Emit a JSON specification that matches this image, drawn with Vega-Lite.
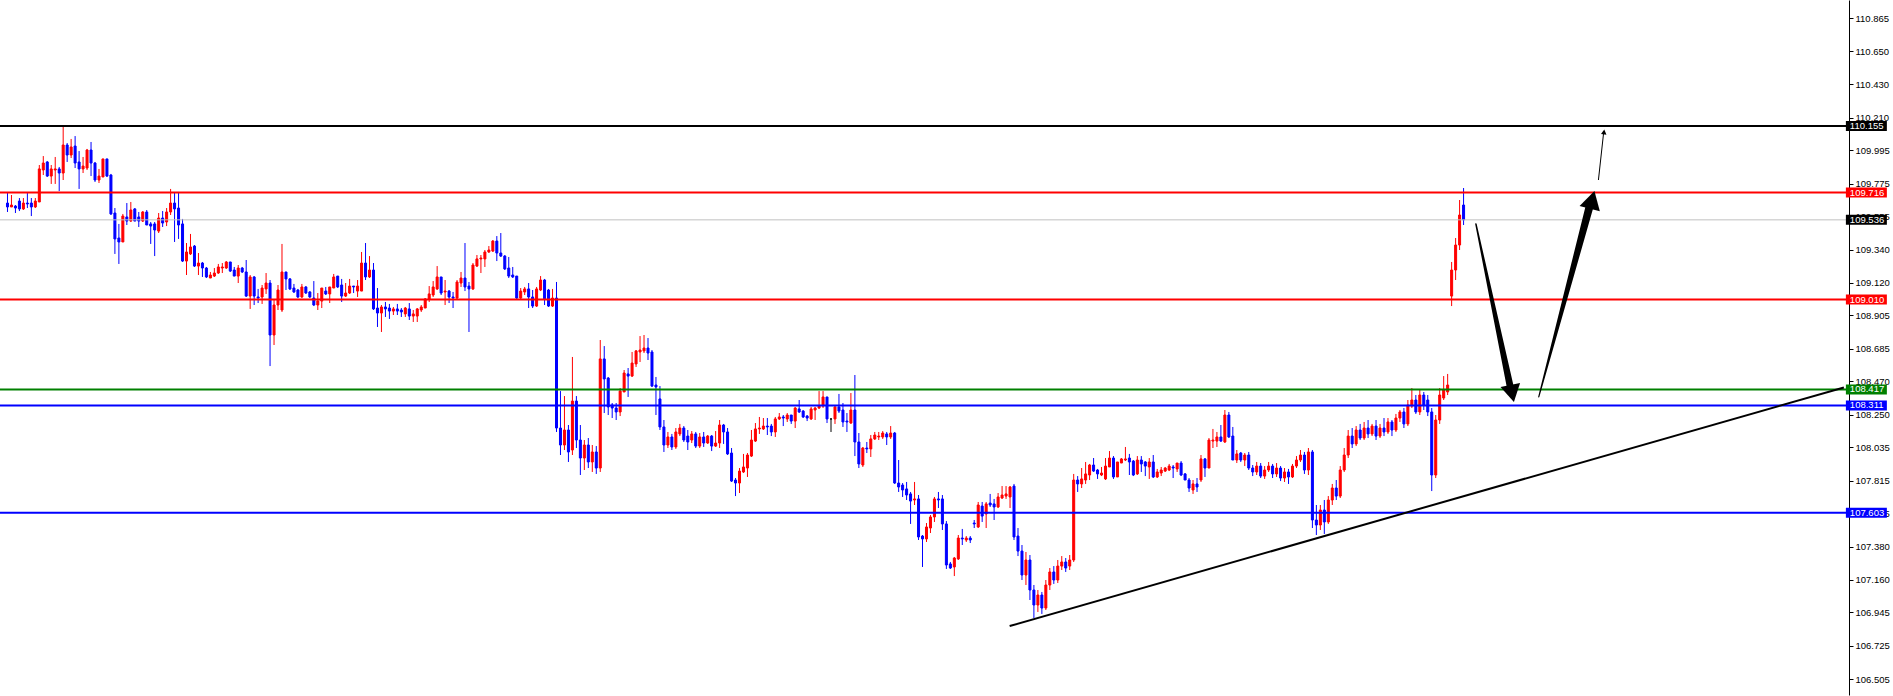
{
"$schema":"https://vega.github.io/schema/vega-lite/v6.json",
"width":1849,"height":695,
"autosize":{"type":"none"},
"padding":{"left":0,"top":0,"right":44,"bottom":1},
"background":"#FFFFFF",
"config":{"view":{"stroke":null}},
"datasets":{
"candles":[
{"i":0,"o":109.647,"h":109.713,"l":109.588,"c":109.621},
{"i":1,"o":109.621,"h":109.700,"l":109.621,"c":109.634},
{"i":2,"o":109.627,"h":109.634,"l":109.581,"c":109.614},
{"i":3,"o":109.660,"h":109.680,"l":109.594,"c":109.608},
{"i":4,"o":109.608,"h":109.680,"l":109.601,"c":109.647},
{"i":5,"o":109.647,"h":109.713,"l":109.614,"c":109.641},
{"i":6,"o":109.647,"h":109.680,"l":109.561,"c":109.621},
{"i":7,"o":109.621,"h":109.680,"l":109.614,"c":109.660},
{"i":8,"o":109.654,"h":109.898,"l":109.654,"c":109.872},
{"i":9,"o":109.865,"h":109.957,"l":109.832,"c":109.911},
{"i":10,"o":109.918,"h":109.924,"l":109.819,"c":109.825},
{"i":11,"o":109.825,"h":109.898,"l":109.773,"c":109.872},
{"i":12,"o":109.865,"h":109.951,"l":109.773,"c":109.872},
{"i":13,"o":109.872,"h":109.885,"l":109.726,"c":109.845},
{"i":14,"o":109.845,"h":110.155,"l":109.799,"c":110.030},
{"i":15,"o":110.030,"h":110.043,"l":109.918,"c":109.964},
{"i":16,"o":109.964,"h":110.070,"l":109.944,"c":110.017},
{"i":17,"o":110.023,"h":110.089,"l":109.878,"c":109.911},
{"i":18,"o":109.918,"h":109.990,"l":109.740,"c":109.872},
{"i":19,"o":109.872,"h":109.951,"l":109.845,"c":109.891},
{"i":20,"o":109.878,"h":110.004,"l":109.865,"c":109.997},
{"i":21,"o":109.997,"h":110.050,"l":109.825,"c":109.911},
{"i":22,"o":109.911,"h":109.918,"l":109.786,"c":109.799},
{"i":23,"o":109.799,"h":109.872,"l":109.779,"c":109.825},
{"i":24,"o":109.819,"h":109.938,"l":109.819,"c":109.938},
{"i":25,"o":109.938,"h":109.938,"l":109.819,"c":109.825},
{"i":26,"o":109.832,"h":109.839,"l":109.568,"c":109.575},
{"i":27,"o":109.581,"h":109.614,"l":109.311,"c":109.410},
{"i":28,"o":109.416,"h":109.509,"l":109.245,"c":109.390},
{"i":29,"o":109.390,"h":109.575,"l":109.390,"c":109.561},
{"i":30,"o":109.555,"h":109.647,"l":109.502,"c":109.528},
{"i":31,"o":109.528,"h":109.654,"l":109.522,"c":109.601},
{"i":32,"o":109.608,"h":109.614,"l":109.528,"c":109.528},
{"i":33,"o":109.555,"h":109.588,"l":109.489,"c":109.528},
{"i":34,"o":109.528,"h":109.594,"l":109.522,"c":109.588},
{"i":35,"o":109.588,"h":109.601,"l":109.502,"c":109.502},
{"i":36,"o":109.509,"h":109.522,"l":109.377,"c":109.495},
{"i":37,"o":109.509,"h":109.522,"l":109.297,"c":109.469},
{"i":38,"o":109.462,"h":109.581,"l":109.449,"c":109.548},
{"i":39,"o":109.548,"h":109.594,"l":109.489,"c":109.515},
{"i":40,"o":109.522,"h":109.614,"l":109.495,"c":109.588},
{"i":41,"o":109.588,"h":109.740,"l":109.568,"c":109.647},
{"i":42,"o":109.647,"h":109.720,"l":109.390,"c":109.608},
{"i":43,"o":109.614,"h":109.720,"l":109.410,"c":109.502},
{"i":44,"o":109.509,"h":109.542,"l":109.258,"c":109.264},
{"i":45,"o":109.264,"h":109.383,"l":109.172,"c":109.324},
{"i":46,"o":109.311,"h":109.443,"l":109.304,"c":109.357},
{"i":47,"o":109.363,"h":109.370,"l":109.225,"c":109.231},
{"i":48,"o":109.231,"h":109.317,"l":109.172,"c":109.251},
{"i":49,"o":109.251,"h":109.258,"l":109.159,"c":109.218},
{"i":50,"o":109.218,"h":109.225,"l":109.152,"c":109.159},
{"i":51,"o":109.152,"h":109.192,"l":109.152,"c":109.172},
{"i":52,"o":109.165,"h":109.218,"l":109.159,"c":109.185},
{"i":53,"o":109.185,"h":109.245,"l":109.179,"c":109.225},
{"i":54,"o":109.218,"h":109.251,"l":109.185,"c":109.225},
{"i":55,"o":109.218,"h":109.264,"l":109.212,"c":109.258},
{"i":56,"o":109.258,"h":109.258,"l":109.192,"c":109.198},
{"i":57,"o":109.205,"h":109.225,"l":109.165,"c":109.165},
{"i":58,"o":109.165,"h":109.238,"l":109.119,"c":109.218},
{"i":59,"o":109.218,"h":109.225,"l":109.185,"c":109.192},
{"i":60,"o":109.192,"h":109.271,"l":109.027,"c":109.033},
{"i":61,"o":109.033,"h":109.172,"l":108.948,"c":109.159},
{"i":62,"o":109.159,"h":109.165,"l":108.974,"c":109.033},
{"i":63,"o":109.027,"h":109.080,"l":108.987,"c":109.020},
{"i":64,"o":109.027,"h":109.106,"l":108.981,"c":109.086},
{"i":65,"o":109.080,"h":109.185,"l":109.047,"c":109.119},
{"i":66,"o":109.119,"h":109.139,"l":108.571,"c":108.776},
{"i":67,"o":108.776,"h":109.007,"l":108.710,"c":108.974},
{"i":68,"o":108.974,"h":109.106,"l":108.941,"c":109.073},
{"i":69,"o":108.941,"h":109.377,"l":108.928,"c":109.192},
{"i":70,"o":109.192,"h":109.192,"l":109.073,"c":109.146},
{"i":71,"o":109.146,"h":109.152,"l":109.073,"c":109.080},
{"i":72,"o":109.086,"h":109.113,"l":109.053,"c":109.060},
{"i":73,"o":109.073,"h":109.080,"l":109.020,"c":109.027},
{"i":74,"o":109.027,"h":109.113,"l":109.020,"c":109.093},
{"i":75,"o":109.093,"h":109.099,"l":109.047,"c":109.053},
{"i":76,"o":109.060,"h":109.066,"l":109.020,"c":109.027},
{"i":77,"o":109.020,"h":109.132,"l":108.967,"c":108.974},
{"i":78,"o":108.974,"h":109.053,"l":108.941,"c":109.000},
{"i":79,"o":109.000,"h":109.086,"l":108.954,"c":109.086},
{"i":80,"o":109.066,"h":109.093,"l":109.040,"c":109.047},
{"i":81,"o":109.047,"h":109.093,"l":108.987,"c":109.093},
{"i":82,"o":109.086,"h":109.179,"l":109.086,"c":109.159},
{"i":83,"o":109.165,"h":109.165,"l":109.086,"c":109.093},
{"i":84,"o":109.106,"h":109.146,"l":108.994,"c":109.033},
{"i":85,"o":109.033,"h":109.119,"l":109.027,"c":109.053},
{"i":86,"o":109.053,"h":109.146,"l":109.047,"c":109.099},
{"i":87,"o":109.099,"h":109.099,"l":109.053,"c":109.093},
{"i":88,"o":109.066,"h":109.139,"l":109.027,"c":109.099},
{"i":89,"o":109.066,"h":109.324,"l":109.066,"c":109.251},
{"i":90,"o":109.251,"h":109.383,"l":109.139,"c":109.159},
{"i":91,"o":109.159,"h":109.297,"l":109.152,"c":109.205},
{"i":92,"o":109.205,"h":109.251,"l":108.941,"c":108.948},
{"i":93,"o":108.954,"h":109.086,"l":108.829,"c":108.921},
{"i":94,"o":108.921,"h":108.974,"l":108.796,"c":108.961},
{"i":95,"o":108.961,"h":108.994,"l":108.895,"c":108.948},
{"i":96,"o":108.954,"h":108.981,"l":108.882,"c":108.934},
{"i":97,"o":108.934,"h":108.961,"l":108.908,"c":108.948},
{"i":98,"o":108.948,"h":108.981,"l":108.908,"c":108.934},
{"i":99,"o":108.941,"h":108.954,"l":108.895,"c":108.928},
{"i":100,"o":108.915,"h":108.961,"l":108.895,"c":108.954},
{"i":101,"o":108.948,"h":108.987,"l":108.875,"c":108.901},
{"i":102,"o":108.901,"h":108.941,"l":108.862,"c":108.915},
{"i":103,"o":108.901,"h":108.954,"l":108.862,"c":108.948},
{"i":104,"o":108.941,"h":108.974,"l":108.928,"c":108.961},
{"i":105,"o":108.954,"h":109.020,"l":108.954,"c":109.014},
{"i":106,"o":109.014,"h":109.099,"l":108.994,"c":109.047},
{"i":107,"o":109.040,"h":109.132,"l":109.027,"c":109.093},
{"i":108,"o":109.080,"h":109.231,"l":109.073,"c":109.159},
{"i":109,"o":109.159,"h":109.159,"l":109.040,"c":109.053},
{"i":110,"o":109.060,"h":109.139,"l":108.974,"c":109.066},
{"i":111,"o":109.066,"h":109.073,"l":108.987,"c":109.027},
{"i":112,"o":109.027,"h":109.060,"l":108.954,"c":109.020},
{"i":113,"o":109.020,"h":109.139,"l":109.007,"c":109.126},
{"i":114,"o":109.119,"h":109.192,"l":109.093,"c":109.152},
{"i":115,"o":109.152,"h":109.383,"l":109.066,"c":109.093},
{"i":116,"o":109.099,"h":109.126,"l":108.796,"c":109.080},
{"i":117,"o":109.080,"h":109.251,"l":109.073,"c":109.238},
{"i":118,"o":109.231,"h":109.304,"l":109.225,"c":109.278},
{"i":119,"o":109.278,"h":109.304,"l":109.185,"c":109.284},
{"i":120,"o":109.278,"h":109.337,"l":109.225,"c":109.324},
{"i":121,"o":109.324,"h":109.363,"l":109.317,"c":109.337},
{"i":122,"o":109.330,"h":109.403,"l":109.324,"c":109.396},
{"i":123,"o":109.396,"h":109.429,"l":109.264,"c":109.317},
{"i":124,"o":109.317,"h":109.449,"l":109.291,"c":109.297},
{"i":125,"o":109.297,"h":109.304,"l":109.205,"c":109.212},
{"i":126,"o":109.218,"h":109.291,"l":109.152,"c":109.165},
{"i":127,"o":109.172,"h":109.225,"l":109.152,"c":109.159},
{"i":128,"o":109.165,"h":109.165,"l":109.014,"c":109.020},
{"i":129,"o":109.020,"h":109.086,"l":109.014,"c":109.066},
{"i":130,"o":109.060,"h":109.093,"l":109.040,"c":109.080},
{"i":131,"o":109.080,"h":109.119,"l":108.954,"c":109.027},
{"i":132,"o":109.027,"h":109.073,"l":108.954,"c":108.967},
{"i":133,"o":108.967,"h":109.093,"l":108.961,"c":109.080},
{"i":134,"o":109.073,"h":109.165,"l":109.066,"c":109.139},
{"i":135,"o":109.139,"h":109.146,"l":108.974,"c":109.014},
{"i":136,"o":109.073,"h":109.080,"l":108.961,"c":108.967},
{"i":137,"o":108.967,"h":109.080,"l":108.961,"c":109.020},
{"i":138,"o":109.020,"h":109.126,"l":108.136,"c":108.162},
{"i":139,"o":108.162,"h":108.406,"l":107.984,"c":108.050},
{"i":140,"o":108.050,"h":108.373,"l":108.017,"c":108.149},
{"i":141,"o":108.149,"h":108.182,"l":107.938,"c":108.004},
{"i":142,"o":108.017,"h":108.631,"l":107.984,"c":108.340},
{"i":143,"o":108.340,"h":108.373,"l":108.030,"c":108.083},
{"i":144,"o":108.083,"h":108.182,"l":107.852,"c":107.964},
{"i":145,"o":107.964,"h":108.083,"l":107.885,"c":108.050},
{"i":146,"o":108.050,"h":108.096,"l":107.898,"c":107.938},
{"i":147,"o":107.938,"h":108.050,"l":107.872,"c":108.004},
{"i":148,"o":108.004,"h":108.043,"l":107.859,"c":107.898},
{"i":149,"o":107.898,"h":108.743,"l":107.872,"c":108.618},
{"i":150,"o":108.618,"h":108.703,"l":108.261,"c":108.486},
{"i":151,"o":108.492,"h":108.499,"l":108.248,"c":108.301},
{"i":152,"o":108.314,"h":108.327,"l":108.228,"c":108.294},
{"i":153,"o":108.294,"h":108.327,"l":108.215,"c":108.268},
{"i":154,"o":108.268,"h":108.426,"l":108.241,"c":108.406},
{"i":155,"o":108.400,"h":108.545,"l":108.400,"c":108.525},
{"i":156,"o":108.519,"h":108.558,"l":108.367,"c":108.505},
{"i":157,"o":108.505,"h":108.664,"l":108.499,"c":108.591},
{"i":158,"o":108.585,"h":108.677,"l":108.565,"c":108.671},
{"i":159,"o":108.664,"h":108.769,"l":108.598,"c":108.677},
{"i":160,"o":108.671,"h":108.776,"l":108.657,"c":108.690},
{"i":161,"o":108.690,"h":108.756,"l":108.611,"c":108.657},
{"i":162,"o":108.664,"h":108.677,"l":108.433,"c":108.439},
{"i":163,"o":108.446,"h":108.499,"l":108.248,"c":108.433},
{"i":164,"o":108.354,"h":108.439,"l":108.149,"c":108.169},
{"i":165,"o":108.169,"h":108.215,"l":108.004,"c":108.050},
{"i":166,"o":108.050,"h":108.136,"l":108.030,"c":108.103},
{"i":167,"o":108.103,"h":108.123,"l":108.017,"c":108.037},
{"i":168,"o":108.037,"h":108.162,"l":108.024,"c":108.136},
{"i":169,"o":108.123,"h":108.189,"l":108.109,"c":108.162},
{"i":170,"o":108.162,"h":108.175,"l":108.070,"c":108.083},
{"i":171,"o":108.109,"h":108.149,"l":108.017,"c":108.070},
{"i":172,"o":108.083,"h":108.142,"l":108.063,"c":108.123},
{"i":173,"o":108.123,"h":108.136,"l":108.030,"c":108.043},
{"i":174,"o":108.043,"h":108.129,"l":108.030,"c":108.103},
{"i":175,"o":108.103,"h":108.136,"l":108.037,"c":108.063},
{"i":176,"o":108.063,"h":108.116,"l":108.057,"c":108.109},
{"i":177,"o":108.109,"h":108.116,"l":108.010,"c":108.043},
{"i":178,"o":108.043,"h":108.142,"l":108.037,"c":108.063},
{"i":179,"o":108.063,"h":108.215,"l":108.030,"c":108.182},
{"i":180,"o":108.182,"h":108.189,"l":108.057,"c":108.136},
{"i":181,"o":108.136,"h":108.162,"l":107.984,"c":107.991},
{"i":182,"o":107.997,"h":108.030,"l":107.806,"c":107.812},
{"i":183,"o":107.819,"h":107.832,"l":107.713,"c":107.799},
{"i":184,"o":107.799,"h":107.898,"l":107.733,"c":107.878},
{"i":185,"o":107.872,"h":107.991,"l":107.865,"c":107.905},
{"i":186,"o":107.898,"h":107.997,"l":107.839,"c":107.984},
{"i":187,"o":107.977,"h":108.149,"l":107.971,"c":108.083},
{"i":188,"o":108.076,"h":108.195,"l":108.070,"c":108.156},
{"i":189,"o":108.156,"h":108.235,"l":108.123,"c":108.162},
{"i":190,"o":108.156,"h":108.228,"l":108.149,"c":108.175},
{"i":191,"o":108.175,"h":108.228,"l":108.116,"c":108.169},
{"i":192,"o":108.175,"h":108.189,"l":108.109,"c":108.136},
{"i":193,"o":108.136,"h":108.235,"l":108.103,"c":108.222},
{"i":194,"o":108.222,"h":108.261,"l":108.215,"c":108.235},
{"i":195,"o":108.235,"h":108.248,"l":108.175,"c":108.228},
{"i":196,"o":108.222,"h":108.261,"l":108.202,"c":108.248},
{"i":197,"o":108.248,"h":108.248,"l":108.189,"c":108.208},
{"i":198,"o":108.208,"h":108.301,"l":108.162,"c":108.294},
{"i":199,"o":108.288,"h":108.347,"l":108.261,"c":108.268},
{"i":200,"o":108.274,"h":108.281,"l":108.228,"c":108.235},
{"i":201,"o":108.241,"h":108.248,"l":108.208,"c":108.228},
{"i":202,"o":108.222,"h":108.301,"l":108.215,"c":108.288},
{"i":203,"o":108.281,"h":108.301,"l":108.215,"c":108.294},
{"i":204,"o":108.294,"h":108.406,"l":108.288,"c":108.307},
{"i":205,"o":108.307,"h":108.406,"l":108.294,"c":108.367},
{"i":206,"o":108.367,"h":108.367,"l":108.195,"c":108.222},
{"i":207,"o":108.222,"h":108.222,"l":108.136,"c":108.222},
{"i":208,"o":108.222,"h":108.307,"l":108.189,"c":108.301},
{"i":209,"o":108.301,"h":108.387,"l":108.261,"c":108.274},
{"i":210,"o":108.281,"h":108.327,"l":108.169,"c":108.202},
{"i":211,"o":108.208,"h":108.261,"l":108.136,"c":108.202},
{"i":212,"o":108.195,"h":108.393,"l":108.189,"c":108.281},
{"i":213,"o":108.281,"h":108.512,"l":107.977,"c":108.070},
{"i":214,"o":108.070,"h":108.129,"l":107.898,"c":107.925},
{"i":215,"o":107.918,"h":108.037,"l":107.905,"c":108.030},
{"i":216,"o":108.030,"h":108.070,"l":107.997,"c":108.024},
{"i":217,"o":108.024,"h":108.116,"l":107.971,"c":108.090},
{"i":218,"o":108.090,"h":108.136,"l":108.083,"c":108.116},
{"i":219,"o":108.103,"h":108.136,"l":108.083,"c":108.109},
{"i":220,"o":108.103,"h":108.142,"l":108.090,"c":108.129},
{"i":221,"o":108.123,"h":108.136,"l":108.050,"c":108.103},
{"i":222,"o":108.103,"h":108.175,"l":108.090,"c":108.129},
{"i":223,"o":108.129,"h":108.136,"l":107.793,"c":107.799},
{"i":224,"o":107.799,"h":107.951,"l":107.740,"c":107.773},
{"i":225,"o":107.786,"h":107.799,"l":107.707,"c":107.753},
{"i":226,"o":107.760,"h":107.806,"l":107.687,"c":107.720},
{"i":227,"o":107.727,"h":107.740,"l":107.529,"c":107.680},
{"i":228,"o":107.687,"h":107.806,"l":107.654,"c":107.694},
{"i":229,"o":107.694,"h":107.720,"l":107.423,"c":107.443},
{"i":230,"o":107.449,"h":107.456,"l":107.245,"c":107.430},
{"i":231,"o":107.430,"h":107.535,"l":107.410,"c":107.509},
{"i":232,"o":107.502,"h":107.588,"l":107.469,"c":107.575},
{"i":233,"o":107.575,"h":107.707,"l":107.542,"c":107.694},
{"i":234,"o":107.694,"h":107.740,"l":107.634,"c":107.687},
{"i":235,"o":107.694,"h":107.720,"l":107.489,"c":107.529},
{"i":236,"o":107.529,"h":107.548,"l":107.232,"c":107.258},
{"i":237,"o":107.265,"h":107.278,"l":107.232,"c":107.238},
{"i":238,"o":107.245,"h":107.311,"l":107.185,"c":107.304},
{"i":239,"o":107.298,"h":107.456,"l":107.291,"c":107.436},
{"i":240,"o":107.436,"h":107.496,"l":107.390,"c":107.430},
{"i":241,"o":107.423,"h":107.449,"l":107.410,"c":107.436},
{"i":242,"o":107.436,"h":107.449,"l":107.403,"c":107.423},
{"i":243,"o":107.535,"h":107.555,"l":107.502,"c":107.529},
{"i":244,"o":107.509,"h":107.674,"l":107.502,"c":107.654},
{"i":245,"o":107.647,"h":107.674,"l":107.542,"c":107.581},
{"i":246,"o":107.595,"h":107.674,"l":107.502,"c":107.661},
{"i":247,"o":107.667,"h":107.727,"l":107.641,"c":107.654},
{"i":248,"o":107.661,"h":107.694,"l":107.555,"c":107.641},
{"i":249,"o":107.641,"h":107.733,"l":107.634,"c":107.707},
{"i":250,"o":107.700,"h":107.779,"l":107.694,"c":107.720},
{"i":251,"o":107.713,"h":107.779,"l":107.694,"c":107.727},
{"i":252,"o":107.707,"h":107.779,"l":107.634,"c":107.773},
{"i":253,"o":107.779,"h":107.793,"l":107.423,"c":107.443},
{"i":254,"o":107.449,"h":107.502,"l":107.317,"c":107.350},
{"i":255,"o":107.350,"h":107.390,"l":107.159,"c":107.192},
{"i":256,"o":107.192,"h":107.344,"l":107.126,"c":107.291},
{"i":257,"o":107.291,"h":107.324,"l":107.027,"c":107.093},
{"i":258,"o":107.093,"h":107.126,"l":106.908,"c":106.994},
{"i":259,"o":106.994,"h":107.093,"l":106.948,"c":107.060},
{"i":260,"o":107.060,"h":107.080,"l":106.935,"c":106.974},
{"i":261,"o":106.974,"h":107.159,"l":106.961,"c":107.126},
{"i":262,"o":107.126,"h":107.238,"l":107.093,"c":107.212},
{"i":263,"o":107.212,"h":107.251,"l":107.133,"c":107.159},
{"i":264,"o":107.159,"h":107.291,"l":107.139,"c":107.251},
{"i":265,"o":107.251,"h":107.317,"l":107.225,"c":107.278},
{"i":266,"o":107.278,"h":107.304,"l":107.212,"c":107.238},
{"i":267,"o":107.251,"h":107.324,"l":107.225,"c":107.291},
{"i":268,"o":107.291,"h":107.859,"l":107.278,"c":107.819},
{"i":269,"o":107.819,"h":107.845,"l":107.740,"c":107.793},
{"i":270,"o":107.793,"h":107.898,"l":107.766,"c":107.826},
{"i":271,"o":107.819,"h":107.938,"l":107.793,"c":107.859},
{"i":272,"o":107.852,"h":107.925,"l":107.819,"c":107.918},
{"i":273,"o":107.918,"h":107.964,"l":107.872,"c":107.878},
{"i":274,"o":107.885,"h":107.892,"l":107.826,"c":107.859},
{"i":275,"o":107.852,"h":107.905,"l":107.845,"c":107.865},
{"i":276,"o":107.826,"h":107.964,"l":107.819,"c":107.911},
{"i":277,"o":107.905,"h":108.010,"l":107.905,"c":107.964},
{"i":278,"o":107.964,"h":107.977,"l":107.826,"c":107.839},
{"i":279,"o":107.839,"h":107.938,"l":107.839,"c":107.938},
{"i":280,"o":107.931,"h":107.964,"l":107.931,"c":107.958},
{"i":281,"o":107.951,"h":108.037,"l":107.944,"c":107.958},
{"i":282,"o":107.964,"h":107.991,"l":107.852,"c":107.938},
{"i":283,"o":107.944,"h":107.951,"l":107.845,"c":107.852},
{"i":284,"o":107.859,"h":107.977,"l":107.852,"c":107.951},
{"i":285,"o":107.951,"h":107.977,"l":107.872,"c":107.925},
{"i":286,"o":107.938,"h":107.944,"l":107.845,"c":107.911},
{"i":287,"o":107.905,"h":107.964,"l":107.826,"c":107.938},
{"i":288,"o":107.938,"h":107.984,"l":107.832,"c":107.839},
{"i":289,"o":107.839,"h":107.892,"l":107.832,"c":107.872},
{"i":290,"o":107.865,"h":107.905,"l":107.845,"c":107.885},
{"i":291,"o":107.878,"h":107.905,"l":107.872,"c":107.898},
{"i":292,"o":107.885,"h":107.925,"l":107.878,"c":107.911},
{"i":293,"o":107.905,"h":107.918,"l":107.832,"c":107.898},
{"i":294,"o":107.892,"h":107.931,"l":107.872,"c":107.931},
{"i":295,"o":107.931,"h":107.944,"l":107.845,"c":107.852},
{"i":296,"o":107.859,"h":107.865,"l":107.819,"c":107.819},
{"i":297,"o":107.819,"h":107.832,"l":107.740,"c":107.766},
{"i":298,"o":107.753,"h":107.819,"l":107.727,"c":107.793},
{"i":299,"o":107.793,"h":107.832,"l":107.740,"c":107.773},
{"i":300,"o":107.819,"h":107.984,"l":107.806,"c":107.958},
{"i":301,"o":107.958,"h":107.964,"l":107.839,"c":107.898},
{"i":302,"o":107.898,"h":108.096,"l":107.898,"c":108.083},
{"i":303,"o":108.076,"h":108.156,"l":108.030,"c":108.083},
{"i":304,"o":108.076,"h":108.136,"l":108.037,"c":108.103},
{"i":305,"o":108.103,"h":108.182,"l":108.070,"c":108.076},
{"i":306,"o":108.070,"h":108.281,"l":108.063,"c":108.248},
{"i":307,"o":108.248,"h":108.268,"l":108.096,"c":108.103},
{"i":308,"o":108.109,"h":108.169,"l":107.951,"c":107.951},
{"i":309,"o":107.951,"h":108.017,"l":107.931,"c":107.991},
{"i":310,"o":107.997,"h":108.004,"l":107.938,"c":107.951},
{"i":311,"o":107.951,"h":107.997,"l":107.911,"c":107.984},
{"i":312,"o":107.984,"h":108.004,"l":107.885,"c":107.898},
{"i":313,"o":107.898,"h":107.918,"l":107.845,"c":107.872},
{"i":314,"o":107.872,"h":107.938,"l":107.852,"c":107.911},
{"i":315,"o":107.911,"h":107.931,"l":107.832,"c":107.845},
{"i":316,"o":107.845,"h":107.911,"l":107.826,"c":107.885},
{"i":317,"o":107.885,"h":107.938,"l":107.872,"c":107.911},
{"i":318,"o":107.911,"h":107.925,"l":107.832,"c":107.859},
{"i":319,"o":107.859,"h":107.931,"l":107.839,"c":107.898},
{"i":320,"o":107.898,"h":107.911,"l":107.812,"c":107.832},
{"i":321,"o":107.832,"h":107.898,"l":107.806,"c":107.872},
{"i":322,"o":107.872,"h":107.892,"l":107.793,"c":107.839},
{"i":323,"o":107.839,"h":107.925,"l":107.832,"c":107.911},
{"i":324,"o":107.911,"h":107.977,"l":107.898,"c":107.951},
{"i":325,"o":107.951,"h":108.017,"l":107.938,"c":107.984},
{"i":326,"o":107.984,"h":108.004,"l":107.859,"c":107.885},
{"i":327,"o":107.885,"h":108.030,"l":107.852,"c":108.004},
{"i":328,"o":108.004,"h":108.017,"l":107.502,"c":107.555},
{"i":329,"o":107.555,"h":107.654,"l":107.456,"c":107.522},
{"i":330,"o":107.522,"h":107.654,"l":107.489,"c":107.621},
{"i":331,"o":107.621,"h":107.687,"l":107.463,"c":107.542},
{"i":332,"o":107.542,"h":107.713,"l":107.529,"c":107.687},
{"i":333,"o":107.687,"h":107.793,"l":107.654,"c":107.766},
{"i":334,"o":107.766,"h":107.819,"l":107.687,"c":107.713},
{"i":335,"o":107.713,"h":107.911,"l":107.700,"c":107.885},
{"i":336,"o":107.885,"h":108.030,"l":107.872,"c":107.984},
{"i":337,"o":107.984,"h":108.149,"l":107.964,"c":108.109},
{"i":338,"o":108.109,"h":108.162,"l":108.030,"c":108.057},
{"i":339,"o":108.057,"h":108.175,"l":108.043,"c":108.149},
{"i":340,"o":108.149,"h":108.189,"l":108.083,"c":108.096},
{"i":341,"o":108.096,"h":108.202,"l":108.083,"c":108.162},
{"i":342,"o":108.162,"h":108.215,"l":108.096,"c":108.123},
{"i":343,"o":108.123,"h":108.189,"l":108.109,"c":108.175},
{"i":344,"o":108.175,"h":108.215,"l":108.083,"c":108.109},
{"i":345,"o":108.109,"h":108.189,"l":108.096,"c":108.162},
{"i":346,"o":108.162,"h":108.228,"l":108.109,"c":108.136},
{"i":347,"o":108.136,"h":108.228,"l":108.123,"c":108.202},
{"i":348,"o":108.202,"h":108.215,"l":108.109,"c":108.149},
{"i":349,"o":108.149,"h":108.255,"l":108.136,"c":108.228},
{"i":350,"o":108.228,"h":108.281,"l":108.202,"c":108.268},
{"i":351,"o":108.268,"h":108.294,"l":108.162,"c":108.189},
{"i":352,"o":108.189,"h":108.347,"l":108.175,"c":108.314},
{"i":353,"o":108.307,"h":108.426,"l":108.294,"c":108.347},
{"i":354,"o":108.347,"h":108.380,"l":108.255,"c":108.268},
{"i":355,"o":108.268,"h":108.413,"l":108.248,"c":108.380},
{"i":356,"o":108.380,"h":108.400,"l":108.281,"c":108.314},
{"i":357,"o":108.347,"h":108.380,"l":108.241,"c":108.268},
{"i":358,"o":108.268,"h":108.294,"l":107.746,"c":107.852},
{"i":359,"o":107.852,"h":108.248,"l":107.832,"c":108.215},
{"i":360,"o":108.215,"h":108.426,"l":108.189,"c":108.380},
{"i":361,"o":108.360,"h":108.505,"l":108.347,"c":108.413},
{"i":362,"o":108.400,"h":108.519,"l":108.380,"c":108.446},
{"i":363,"o":109.033,"h":109.258,"l":108.967,"c":109.205},
{"i":364,"o":109.205,"h":109.416,"l":109.139,"c":109.370},
{"i":365,"o":109.370,"h":109.667,"l":109.337,"c":109.568},
{"i":366,"o":109.634,"h":109.746,"l":109.502,"c":109.536}
],
"levels":[
{"p":110.155,"k":"top","a":462.1,"b":472.4,"t":463.1},{"p":109.716,"k":"res","a":462.1,"b":472.4,"t":463.1},{"p":109.536,"k":"bid","a":462.1,"b":472.4,"t":463.1},{"p":109.010,"k":"res","a":462.1,"b":472.4,"t":463.1},
{"p":108.417,"k":"pivot","a":462.1,"b":472.4,"t":463.1},{"p":108.311,"k":"sup","a":462.1,"b":472.4,"t":463.1},{"p":107.603,"k":"sup","a":462.1,"b":472.4,"t":463.1}
],
"trend":[{"i":251.9,"p":106.855},{"i":461.6,"p":108.430}],
"downShaft":[{"i":369.1,"p":109.509},{"i":377.9,"p":108.413}],
"downHead":[{"i":378.2,"p":108.390}],
"upShaft":[{"i":384.9,"p":108.367},{"i":397.9,"p":109.647}],
"upHead":[{"i":398.3,"p":109.668}],
"thin":[{"i":399.9,"p":109.799},{"i":401.25,"p":110.122}],
"thinHead":[{"i":401.3,"p":110.116}]
},
"resolve":{"scale":{"color":"independent","size":"independent"}},
"encoding":{
"x":{"field":"i","type":"quantitative","scale":{"domain":[-0.625,461.625],"nice":false,"zero":false},"axis":null},
"y":{"field":"p","type":"quantitative","scale":{"domain":[106.400,110.987],"nice":false,"zero":false},
"axis":{"orient":"right","title":null,"grid":false,"format":".3f",
"values":[110.865,110.650,110.430,110.210,109.995,109.775,109.555,109.340,109.120,108.905,108.685,108.470,108.250,108.035,107.815,107.595,107.380,107.160,106.945,106.725,106.505],
"domainColor":"#000000","domainWidth":1,"tickColor":"#000000","tickSize":4,"tickWidth":1,
"labelFont":"Liberation Sans","labelFontSize":9.5,"labelColor":"#000000","labelPadding":2,"labelOverlap":false,"labelFlush":false,"labelBaseline":"middle"}}
},
"layer":[
{"data":{"name":"candles"},"mark":{"type":"rule","strokeWidth":1},
"encoding":{"y":{"field":"l","type":"quantitative"},"y2":{"field":"h"},
"color":{"condition":[{"test":"datum.c > datum.o","value":"#FF0000"},{"test":"datum.c < datum.o","value":"#0000FF"}],"value":"#000000"}}},
{"data":{"name":"candles"},"mark":{"type":"bar","size":2,"strokeWidth":1},
"encoding":{"y":{"field":"o","type":"quantitative"},"y2":{"field":"c"},
"color":{"condition":[{"test":"datum.c > datum.o","value":"#FF0000"},{"test":"datum.c < datum.o","value":"#0000FF"}],"value":"#000000"},
"stroke":{"condition":[{"test":"datum.c > datum.o","value":"#FF0000"},{"test":"datum.c < datum.o","value":"#0000FF"}],"value":"#000000"}}},
{"data":{"name":"levels"},"transform":[{"filter":"datum.k == 'bid'"}],"mark":{"type":"rule","strokeWidth":1,"color":"#C0C0C0"},
"encoding":{"x":null}},
{"data":{"name":"levels"},"transform":[{"filter":"datum.k != 'bid'"}],"mark":{"type":"rule","strokeWidth":2},
"encoding":{"x":null,"color":{"field":"k","type":"nominal","legend":null,"scale":{"domain":["top","res","pivot","sup"],"range":["#000000","#FF0000","#008000","#0000FF"]}}}},
{"data":{"name":"trend"},"mark":{"type":"line","strokeWidth":2,"color":"#000000"},"encoding":{}},
{"data":{"name":"downShaft"},"mark":{"type":"trail","color":"#000000"},
"encoding":{"size":{"field":"p","type":"quantitative","legend":null,"scale":{"domain":[109.509,108.413],"range":[1.5,7]}}}},
{"data":{"name":"downHead"},"mark":{"type":"point","shape":"triangle-down","size":400,"angle":348,"filled":true,"color":"#000000","opacity":1,"strokeWidth":0}},
{"data":{"name":"upShaft"},"mark":{"type":"trail","color":"#000000"},
"encoding":{"size":{"field":"p","type":"quantitative","legend":null,"scale":{"domain":[108.367,109.647],"range":[1.2,8]}}}},
{"data":{"name":"upHead"},"mark":{"type":"point","shape":"triangle-up","size":441,"angle":15,"filled":true,"color":"#000000","opacity":1,"strokeWidth":0}},
{"data":{"name":"thin"},"mark":{"type":"line","strokeWidth":1,"color":"#000000"},"encoding":{}},
{"data":{"name":"thinHead"},"mark":{"type":"point","shape":"triangle-up","size":30,"angle":7,"filled":true,"color":"#000000","opacity":1,"strokeWidth":0}},
{"data":{"name":"levels"},"mark":{"type":"rule","strokeWidth":10,"strokeCap":"butt","clip":false},
"encoding":{"x":{"field":"a","type":"quantitative"},"x2":{"field":"b"},
"color":{"field":"k","type":"nominal","legend":null,"scale":{"domain":["top","res","bid","pivot","sup"],"range":["#000000","#FF0000","#000000","#008000","#0000FF"]}}}},
{"data":{"name":"levels"},"mark":{"type":"text","align":"left","baseline":"middle","color":"#FFFFFF","font":"Liberation Sans","fontSize":9.5,"clip":false},
"encoding":{"x":{"field":"t","type":"quantitative"},"text":{"field":"p","type":"quantitative","format":".3f"}}}
]
}
